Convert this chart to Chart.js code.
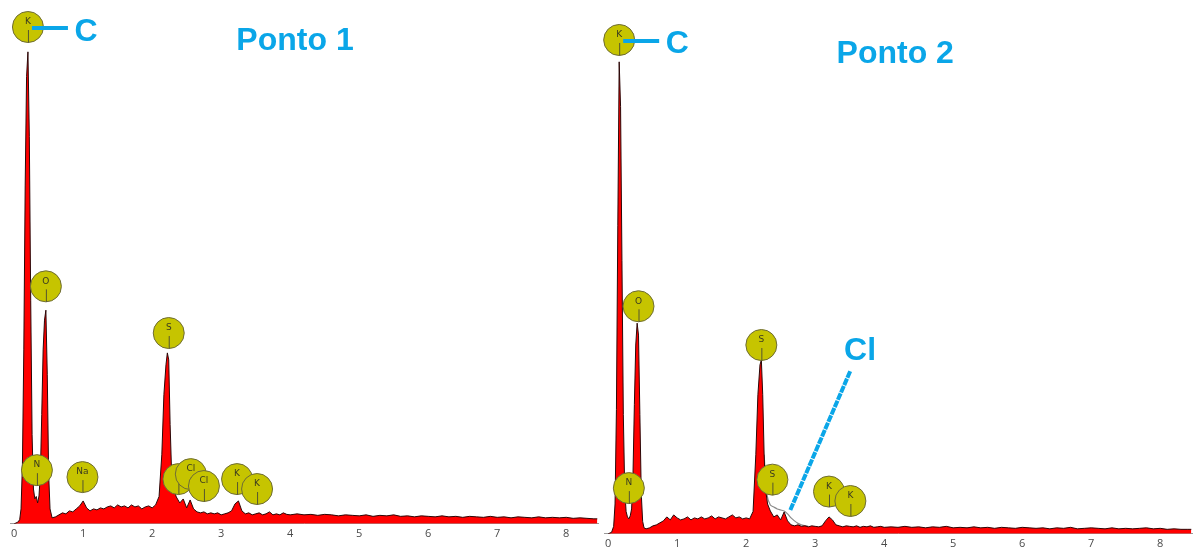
<!DOCTYPE html>
<html>
<head>
<meta charset="utf-8">
<script src="https://cdn.jsdelivr.net/npm/chart.js@4.4.1/dist/chart.umd.min.js"></script>
<style>
  html, body { margin: 0; padding: 0; background: #fff; }
  #wrap { position: relative; width: 1199px; height: 556px; overflow: hidden; }
  canvas { position: absolute; top: 0; }
  #ponto1 { left: 0; }
  #ponto2 { left: 597px; }
</style>
</head>
<body>
<div id="wrap">
  <canvas id="ponto1" width="600" height="556"></canvas>
  <canvas id="ponto2" width="602" height="556"></canvas>
</div>
<script>
// energy channels (keV), shared by both spectra
const energy = [
  0, 0.05, 0.08, 0.10, 0.12, 0.14, 0.16, 0.18, 0.20, 0.22, 0.24, 0.26, 0.28, 0.30, 0.32, 0.34, 0.36, 0.38, 0.40, 0.42, 0.44, 0.46, 0.48, 0.50, 0.52, 0.55,
  0.60, 0.65, 0.70, 0.75, 0.80, 0.85, 0.90, 0.95, 1.00, 1.05, 1.10, 1.15, 1.20, 1.25, 1.30, 1.35, 1.40, 1.45, 1.50, 1.55, 1.60, 1.65, 1.70, 1.75, 1.80, 1.85, 1.90, 1.95, 2.00, 2.05, 2.10,
  2.14, 2.17, 2.20, 2.22, 2.24, 2.26, 2.28, 2.31,
  2.35, 2.40, 2.45, 2.50, 2.55, 2.60, 2.65, 2.70, 2.75, 2.80, 2.85, 2.90, 2.95, 3.00, 3.05, 3.10, 3.15, 3.20, 3.25, 3.30, 3.35, 3.40, 3.45, 3.50, 3.55, 3.60, 3.65, 3.70, 3.75, 3.80, 3.85, 3.90, 3.95, 4.00,
  4.1, 4.2, 4.3, 4.4, 4.5, 4.6, 4.7, 4.8, 4.9, 5.0, 5.1, 5.2, 5.3, 5.4, 5.5, 5.6, 5.7, 5.8, 5.9, 6.0, 6.1, 6.2, 6.3, 6.4, 6.5, 6.6, 6.7, 6.8, 6.9, 7.0, 7.1, 7.2, 7.3, 7.4, 7.5, 7.6, 7.7, 7.8, 7.9, 8.0, 8.1, 8.2, 8.3, 8.4, 8.45
];

// counts (relative, C peak ~ 95)
const countsPonto1 = [
  0, 0.3, 0.8, 3, 12, 35, 68, 90, 95, 78, 45, 18, 7, 5, 5.5, 4.2, 5.6, 10, 22, 35, 41, 43, 30, 10, 3, 1.2,
  1.4, 1.8, 2.2, 2.0, 2.6, 2.4, 3.0, 3.6, 4.6, 3.2, 2.6, 3.0, 2.8, 3.2, 3.0, 3.4, 3.6, 3.2, 3.8, 3.4, 3.6, 3.2, 3.8, 3.4, 3.6, 3.0, 3.4, 3.6, 3.2, 3.8, 5.5,
  14, 26, 32, 34.4, 33, 20, 11, 7,
  5.4, 4.2, 5.0, 3.2, 4.8, 3.0, 2.4, 2.2, 2.4, 2.0, 2.2, 2.0, 2.2, 1.8, 2.0, 2.2, 2.6, 4.0, 4.6, 2.6, 2.0, 2.2, 1.8, 2.0, 2.2, 1.8, 2.0, 2.4, 1.8, 2.0, 1.8, 2.2, 1.9, 1.8,
  2.0, 1.8, 1.9, 1.7, 1.9, 1.8, 1.6, 1.8, 1.7, 1.6, 1.8, 1.5, 1.7, 1.6, 1.8, 1.5, 1.6, 1.4, 1.6, 1.5, 1.4, 1.6, 1.4, 1.5, 1.3, 1.5, 1.4, 1.3, 1.5, 1.3, 1.4, 1.2, 1.4, 1.3, 1.2, 1.4, 1.2, 1.3, 1.2, 1.3, 1.1, 1.2, 1.1, 1.0, 1.0
];

const countsPonto2 = [
  0, 0.3, 1.5, 6, 25, 62, 95, 86, 55, 24, 9, 4.5, 3.4, 3.0, 3.6, 5, 12, 26, 38, 42.4, 40, 24, 8, 2.5, 1.2, 1.0,
  1.2, 1.6, 1.8, 2.2, 2.6, 3.4, 2.8, 3.8, 3.2, 2.8, 3.0, 3.4, 2.8, 3.2, 3.0, 3.4, 3.0, 3.2, 3.6, 3.0, 3.4, 3.2, 3.0, 3.4, 3.8, 3.2, 3.4, 3.0, 3.2, 3.0, 4.5,
  16, 28, 34, 35, 28, 16, 9, 6,
  4.6, 3.4, 3.8, 2.8, 4.4, 2.6, 1.8, 1.6, 1.8, 1.5, 1.6, 1.4, 1.6, 1.5, 1.4, 1.6, 2.6, 3.4, 2.8, 1.8, 1.6, 1.4, 1.6, 1.5, 1.4, 1.6, 1.3, 1.5, 1.4, 1.6, 1.3, 1.4, 1.5, 1.3,
  1.4, 1.3, 1.5, 1.3, 1.4, 1.2, 1.4, 1.3, 1.5, 1.2, 1.3, 1.2, 1.4, 1.2, 1.3, 1.1, 1.3, 1.2, 1.1, 1.3, 1.2, 1.1, 1.2, 1.0, 1.2, 1.1, 1.3, 1.0, 1.1, 1.2, 1.1, 1.0, 1.2, 1.0, 1.1, 1.0, 1.1, 1.2, 1.0, 1.1, 0.9, 1.0, 0.9, 0.9, 0.9
];

// fitted envelope over the S / Cl shoulder (Ponto 2)
const fitEnergy2 = [2.26, 2.30, 2.35, 2.40, 2.45, 2.50, 2.55, 2.60, 2.65, 2.70, 2.75, 2.80, 2.90];
const fitCounts2 = [16, 8, 5.8, 5.4, 5.0, 4.8, 4.6, 4.0, 3.2, 2.6, 2.1, 1.8, 1.5];

const xTicks = [0, 1, 2, 3, 4, 5, 6, 7, 8];

// element markers: label, energy (keV), height of circle centre
const marks1Labels = ['K', 'O', 'S', 'N', 'Na', 'S', 'Cl', 'Cl', 'K', 'K'];
const marks1Energy = [0.20, 0.46, 2.24, 0.33, 0.99, 2.38, 2.56, 2.75, 3.23, 3.52];
const marks1Height = [100, 47.8, 38.4, 10.8, 9.4, 9, 10, 7.6, 9, 7];

const marks2Labels = ['K', 'O', 'S', 'N', 'S', 'K', 'K'];
const marks2Energy = [0.16, 0.44, 2.22, 0.30, 2.38, 3.20, 3.51];
const marks2Height = [99.4, 45.8, 38, 9.2, 10.9, 8.5, 6.6];

const BLUE = '#0aa6e8';

function edsOverlay(cfg) {
  return {
    id: 'edsOverlay',
    afterDatasetsDraw(chart) {
      const ctx = chart.ctx;
      const x = chart.scales.x, y = chart.scales.y;
      ctx.save();

      // ---- element circles ----
      cfg.labels.forEach((lab, i) => {
        const px = x.getPixelForValue(cfg.energy[i]);
        const py = y.getPixelForValue(cfg.height[i]);
        ctx.beginPath();
        ctx.arc(px, py, 15.5, 0, Math.PI * 2);
        ctx.fillStyle = '#c6c400';
        ctx.fill();
        ctx.lineWidth = 1;
        ctx.strokeStyle = '#6e6c35';
        ctx.stroke();
        ctx.fillStyle = '#3a3a20';
        ctx.font = '9px "DejaVu Sans"';
        ctx.textAlign = 'center';
        ctx.textBaseline = 'middle';
        ctx.fillText(lab, px, py - 5);
        ctx.beginPath();
        ctx.moveTo(px + 0.5, py + 3);
        ctx.lineTo(px + 0.5, py + 15.5);
        ctx.strokeStyle = '#55552e';
        ctx.stroke();
      });

      // ---- "C" callout on the first circle ----
      const cx = x.getPixelForValue(cfg.energy[0]);
      const cy = y.getPixelForValue(cfg.height[0]);
      ctx.strokeStyle = BLUE;
      ctx.lineWidth = 4;
      ctx.beginPath();
      ctx.moveTo(cx + 4, cy + 1);
      ctx.lineTo(cx + 40, cy + 1);
      ctx.stroke();
      ctx.fillStyle = BLUE;
      ctx.font = 'bold 32px "Liberation Sans"';
      ctx.textAlign = 'center';
      ctx.textBaseline = 'alphabetic';
      ctx.fillText('C', cx + 58, cy + 13.5);

      // ---- title ----
      ctx.fillText(cfg.title, x.getPixelForValue(cfg.titleAt[0]), y.getPixelForValue(cfg.titleAt[1]));

      // ---- Cl pointer (Ponto 2) ----
      if (cfg.pointer) {
        const p = cfg.pointer;
        ctx.beginPath();
        ctx.moveTo(x.getPixelForValue(p.from[0]), y.getPixelForValue(p.from[1]));
        ctx.lineTo(x.getPixelForValue(p.to[0]), y.getPixelForValue(p.to[1]));
        ctx.setLineDash([7, 1]);
        ctx.lineWidth = 4;
        ctx.stroke();
        ctx.setLineDash([]);
        ctx.fillText(p.text, x.getPixelForValue(p.textAt[0]), y.getPixelForValue(p.textAt[1]));
      }
      ctx.restore();
    }
  };
}

function makeSpectrum(id, counts, overlay, pad, extraSets) {
  const spectrum = {
    data: energy.map((e, i) => ({ x: e, y: counts[i] })),
    fill: 'origin',
    backgroundColor: '#ff0000',
    borderColor: '#2b0808',
    borderWidth: 1,
    pointRadius: 0,
    tension: 0
  };
  return new Chart(document.getElementById(id), {
    type: 'line',
    data: { datasets: [spectrum].concat(extraSets || []) },
    options: {
      responsive: false,
      animation: false,
      events: [],
      layout: { padding: pad },
      plugins: { legend: { display: false }, tooltip: { enabled: false } },
      scales: {
        x: {
          type: 'linear',
          min: -0.06,
          max: 8.46,
          afterBuildTicks: s => { s.ticks = xTicks.map(v => ({ value: v })); },
          grid: { display: false, drawTicks: false },
          border: { display: true, color: '#9a9a9a', width: 1 },
          ticks: { color: '#4a4a4a', font: { family: '"Open Sans"', size: 11 }, padding: 3, maxRotation: 0 }
        },
        y: { display: false, min: 0, max: 100 }
      }
    },
    plugins: [edsOverlay(overlay)]
  });
}

makeSpectrum('ponto1', countsPonto1, {
  labels: marks1Labels, energy: marks1Energy, height: marks1Height,
  title: 'Ponto 1', titleAt: [4.07, 95.4]
}, { left: 10, right: 2, top: 27, bottom: 13 });

makeSpectrum('ponto2', countsPonto2, {
  labels: marks2Labels, energy: marks2Energy, height: marks2Height,
  title: 'Ponto 2', titleAt: [4.16, 94.8],
  pointer: { from: [2.64, 4.8], to: [3.51, 32.8], text: 'Cl', textAt: [3.65, 35] }
}, { left: 7, right: 7, top: 37, bottom: 3 }, [{
  data: fitEnergy2.map((e, i) => ({ x: e, y: fitCounts2[i] })),
  fill: false,
  borderColor: '#8a8a8a',
  borderWidth: 1.2,
  pointRadius: 0,
  tension: 0.3
}]);
</script>
</body>
</html>
